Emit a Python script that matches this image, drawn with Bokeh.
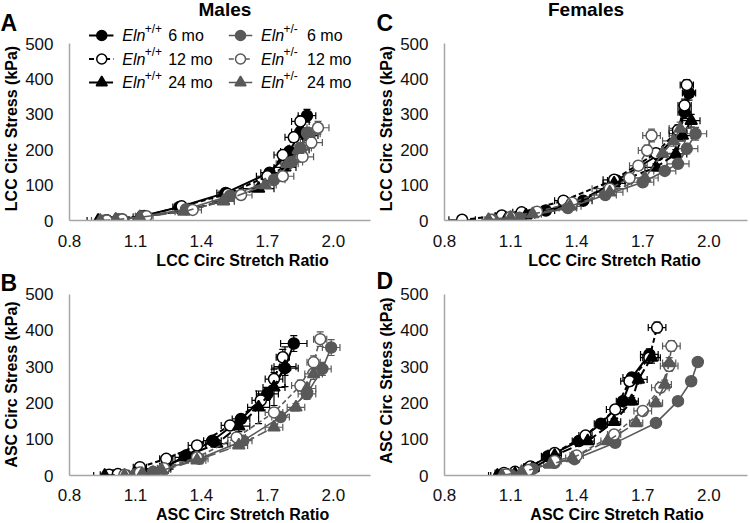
import math
from bokeh.plotting import figure
from bokeh.models import (Label, Whisker, ColumnDataSource, FixedTicker, TeeHead,
                          Range1d, NumeralTickFormatter)
from bokeh.layouts import column, row
from bokeh.embed import file_html
from bokeh.resources import INLINE

FONT = "Liberation Sans"

# ---------------- data: stretch ratio (x), stress kPa (y), +/- SEM ----------------
# Panel A: Males, LCC
mA_wt6_x = [0.97, 1.02, 1.13, 1.30, 1.51, 1.71, 1.80, 1.85, 1.88]
mA_wt6_y = [0, 3, 12, 38, 78, 135, 195, 250, 296]
mA_wt6_ex = [0.04, 0.03, 0.03, 0.03, 0.04, 0.04, 0.04, 0.04, 0.04]
mA_wt6_ey = [0, 1, 2, 4, 6, 10, 12, 15, 18]
mA_wt12_x = [0.97, 1.04, 1.14, 1.31, 1.52, 1.70, 1.77, 1.82, 1.85]
mA_wt12_y = [0, 3, 13, 40, 75, 125, 185, 235, 280]
mA_wt12_ex = [0.05, 0.03, 0.03, 0.03, 0.04, 0.05, 0.04, 0.04, 0.04]
mA_wt12_ey = [0, 1, 2, 4, 6, 8, 10, 12, 15]
mA_wt24_x = [0.93, 1.01, 1.12, 1.33, 1.50, 1.66, 1.78, 1.84, 1.88]
mA_wt24_y = [0, 2, 10, 28, 55, 90, 150, 200, 240]
mA_wt24_ex = [0.05, 0.03, 0.03, 0.04, 0.05, 0.07, 0.05, 0.05, 0.05]
mA_wt24_ey = [0, 1, 2, 3, 5, 8, 10, 12, 14]
mA_het6_x = [0.96, 1.02, 1.13, 1.33, 1.53, 1.73, 1.81, 1.85, 1.88]
mA_het6_y = [0, 3, 11, 32, 70, 115, 165, 205, 248]
mA_het6_ex = [0.04, 0.03, 0.03, 0.03, 0.04, 0.05, 0.05, 0.05, 0.05]
mA_het6_ey = [0, 1, 2, 3, 5, 8, 10, 12, 14]
mA_het12_x = [0.97, 1.04, 1.15, 1.36, 1.58, 1.77, 1.86, 1.90, 1.93]
mA_het12_y = [0, 3, 12, 30, 72, 125, 180, 220, 262]
mA_het12_ex = [0.04, 0.03, 0.03, 0.04, 0.05, 0.05, 0.05, 0.05, 0.05]
mA_het12_ey = [0, 1, 2, 3, 5, 8, 12, 15, 18]
mA_het24_x = [0.94, 1.01, 1.12, 1.32, 1.50, 1.69, 1.79, 1.84, 1.89]
mA_het24_y = [0, 2, 9, 25, 55, 100, 160, 200, 245]
mA_het24_ex = [0.04, 0.03, 0.03, 0.04, 0.05, 0.05, 0.05, 0.05, 0.05]
mA_het24_ey = [0, 1, 2, 3, 5, 8, 10, 12, 14]

# Panel C: Females, LCC
fC_wt6_x = [1.02, 1.13, 1.26, 1.43, 1.58, 1.77, 1.86, 1.89, 1.91]
fC_wt6_y = [0, 10, 28, 56, 113, 185, 245, 306, 360]
fC_wt6_ex = [0.03, 0.03, 0.04, 0.04, 0.04, 0.04, 0.04, 0.03, 0.03]
fC_wt6_ey = [0, 2, 3, 5, 8, 12, 15, 18, 20]
fC_wt12_x = [0.88, 1.06, 1.15, 1.34, 1.57, 1.76, 1.86, 1.89, 1.90]
fC_wt12_y = [2, 14, 23, 56, 115, 190, 255, 325, 383]
fC_wt12_ex = [0.06, 0.03, 0.04, 0.04, 0.05, 0.04, 0.04, 0.03, 0.03]
fC_wt12_ey = [0, 2, 3, 5, 8, 12, 15, 18, 15]
fC_wt24_x = [1.03, 1.08, 1.17, 1.36, 1.57, 1.76, 1.85, 1.88, 1.92]
fC_wt24_y = [0, 5, 15, 40, 105, 150, 188, 240, 282]
fC_wt24_ex = [0.04, 0.03, 0.04, 0.04, 0.05, 0.05, 0.05, 0.04, 0.04]
fC_wt24_ey = [0, 1, 2, 4, 8, 10, 12, 15, 18]
fC_het6_x = [1.02, 1.14, 1.36, 1.53, 1.70, 1.80, 1.86, 1.90, 1.94]
fC_het6_y = [2, 8, 35, 72, 108, 140, 160, 203, 245]
fC_het6_ex = [0.03, 0.03, 0.04, 0.05, 0.05, 0.05, 0.05, 0.05, 0.05]
fC_het6_ey = [0, 2, 3, 6, 8, 10, 12, 15, 18]
fC_het12_x = [1.01, 1.10, 1.22, 1.38, 1.55, 1.64, 1.68, 1.72, 1.74]
fC_het12_y = [2, 10, 25, 50, 90, 120, 155, 198, 240]
fC_het12_ex = [0.03, 0.04, 0.05, 0.06, 0.08, 0.07, 0.04, 0.04, 0.04]
fC_het12_ey = [0, 2, 3, 5, 8, 10, 12, 15, 18]
fC_het24_x = [1.00, 1.10, 1.20, 1.37, 1.55, 1.71, 1.79, 1.84, 1.87]
fC_het24_y = [2, 8, 18, 40, 80, 120, 190, 225, 260]
fC_het24_ex = [0.03, 0.04, 0.04, 0.05, 0.06, 0.06, 0.05, 0.05, 0.05]
fC_het24_ey = [0, 1, 2, 4, 8, 10, 12, 15, 18]

# Panel B: Males, ASC
mB_wt6_x = [1.00, 1.15, 1.24, 1.33, 1.45, 1.58, 1.70, 1.78, 1.82]
mB_wt6_y = [0, 4, 25, 55, 96, 156, 225, 296, 364]
mB_wt6_ex = [0.04, 0.03, 0.03, 0.03, 0.04, 0.04, 0.05, 0.06, 0.06]
mB_wt6_ey = [0, 1, 3, 5, 8, 12, 15, 20, 22]
mB_wt12_x = [0.98, 1.02, 1.12, 1.24, 1.38, 1.53, 1.67, 1.73, 1.77]
mB_wt12_y = [2, 4, 23, 46, 83, 138, 207, 266, 326]
mB_wt12_ex = [0.04, 0.03, 0.03, 0.03, 0.04, 0.04, 0.04, 0.04, 0.03]
mB_wt12_ey = [0, 1, 3, 5, 8, 10, 15, 18, 22]
mB_wt24_x = [0.96, 1.10, 1.22, 1.32, 1.47, 1.57, 1.66, 1.73, 1.78]
mB_wt24_y = [0, 5, 18, 50, 88, 136, 188, 243, 300]
mB_wt24_ex = [0.05, 0.03, 0.04, 0.04, 0.05, 0.05, 0.05, 0.05, 0.05]
mB_wt24_ey = [0, 2, 3, 6, 10, 15, 45, 50, 55]
mB_het6_x = [1.10, 1.18, 1.23, 1.39, 1.59, 1.76, 1.88, 1.95, 1.99]
mB_het6_y = [3, 10, 18, 46, 96, 161, 225, 294, 353]
mB_het6_ex = [0.03, 0.03, 0.03, 0.04, 0.04, 0.04, 0.04, 0.04, 0.04]
mB_het6_ey = [0, 1, 2, 4, 8, 12, 15, 18, 22]
mB_het12_x = [1.05, 1.12, 1.23, 1.38, 1.56, 1.73, 1.85, 1.91, 1.94]
mB_het12_y = [2, 8, 20, 50, 105, 174, 248, 312, 376]
mB_het12_ex = [0.03, 0.03, 0.03, 0.04, 0.04, 0.04, 0.04, 0.03, 0.03]
mB_het12_ey = [0, 1, 2, 4, 8, 12, 15, 18, 20]
mB_het24_x = [1.05, 1.13, 1.22, 1.38, 1.57, 1.73, 1.83, 1.88, 1.91]
mB_het24_y = [0, 5, 14, 42, 83, 133, 188, 240, 280]
mB_het24_ex = [0.03, 0.03, 0.03, 0.04, 0.04, 0.04, 0.04, 0.04, 0.04]
mB_het24_ey = [0, 1, 2, 4, 6, 8, 10, 12, 15]

# Panel D: Females, ASC
fD_wt6_x = [1.05, 1.12, 1.18, 1.27, 1.41, 1.51, 1.61, 1.65, 1.73]
fD_wt6_y = [0, 5, 20, 53, 95, 143, 205, 270, 334]
fD_wt6_ex = [0.04, 0.03, 0.03, 0.03, 0.03, 0.03, 0.03, 0.04, 0.04]
fD_wt6_ey = [0, 1, 2, 4, 6, 8, 10, 12, 15]
fD_wt12_x = [1.07, 1.12, 1.19, 1.30, 1.44, 1.575, 1.64, 1.73, 1.765]
fD_wt12_y = [7, 10, 25, 62, 110, 182, 260, 325, 408]
fD_wt12_ex = [0.04, 0.03, 0.03, 0.03, 0.03, 0.04, 0.04, 0.04, 0.04]
fD_wt12_ey = [0, 2, 3, 5, 8, 10, 12, 15, 15]
fD_wt24_x = [1.04, 1.12, 1.20, 1.30, 1.45, 1.57, 1.65, 1.68, 1.74]
fD_wt24_y = [0, 5, 20, 55, 95, 148, 205, 265, 325]
fD_wt24_ex = [0.04, 0.03, 0.03, 0.03, 0.03, 0.03, 0.03, 0.04, 0.04]
fD_wt24_ey = [0, 1, 2, 4, 6, 8, 10, 12, 15]
fD_het6_x = [1.10, 1.20, 1.30, 1.39, 1.575, 1.76, 1.86, 1.92, 1.95]
fD_het6_y = [2, 18, 35, 45, 90, 145, 205, 260, 313]
fD_het6_ex = [0.02, 0.02, 0.02, 0.02, 0.02, 0.02, 0.02, 0.02, 0.02]
fD_het6_ey = [0, 1, 2, 2, 3, 4, 5, 6, 8]
fD_het12_x = [1.08, 1.18, 1.30, 1.40, 1.57, 1.70, 1.78, 1.82, 1.83]
fD_het12_y = [3, 15, 40, 55, 113, 178, 242, 302, 357]
fD_het12_ex = [0.03, 0.03, 0.03, 0.03, 0.03, 0.04, 0.04, 0.04, 0.04]
fD_het12_ey = [0, 2, 3, 4, 6, 10, 12, 15, 15]
fD_het24_x = [1.06, 1.15, 1.28, 1.38, 1.54, 1.67, 1.76, 1.80, 1.82]
fD_het24_y = [0, 10, 30, 48, 95, 145, 200, 251, 310]
fD_het24_ex = [0.03, 0.03, 0.03, 0.03, 0.03, 0.03, 0.03, 0.03, 0.03]
fD_het24_ey = [0, 2, 3, 4, 6, 8, 10, 12, 15]

X_TICKS = [0.8, 1.1, 1.4, 1.7, 2.0]
Y_TICKS = [0, 100, 200, 300, 400, 500]
SERIES = ["wt6", "wt12", "wt24", "het6", "het12", "het24"]
LEG_GENO = {"wt6": "+/+", "wt12": "+/+", "wt24": "+/+",
            "het6": "+/-", "het12": "+/-", "het24": "+/-"}
LEG_AGE = {"wt6": "6 mo", "wt12": "12 mo", "wt24": "24 mo",
           "het6": "6 mo", "het12": "12 mo", "het24": "24 mo"}

BLACK = "#000000"
GRAY = "#595959"
STYLE = {
    "wt6":   dict(c=BLACK, m="circle",   fill=BLACK,     dash="solid", lw=2.0, size=11),
    "wt12":  dict(c=BLACK, m="circle",   fill="#ffffff", dash="5 3",   lw=2.0, size=11),
    "wt24":  dict(c=BLACK, m="triangle", fill=BLACK,     dash="10 4",  lw=2.0, size=12),
    "het6":  dict(c=GRAY,  m="circle",   fill=GRAY,      dash="solid", lw=1.6, size=11),
    "het12": dict(c=GRAY,  m="circle",   fill="#ffffff", dash="5 3",   lw=1.6, size=11),
    "het24": dict(c=GRAY,  m="triangle", fill=GRAY,      dash="10 4",  lw=1.6, size=12),
}

# panel geometry in page pixels (page origin at top-left)
GEOM = {
    "A": dict(left=22, top=0, w=353, h=250, fl=62, fr=370, fb=220, sx=225.0, sy=0.354, so=8),
    "C": dict(left=397, top=0, w=353, h=250, fl=443, fr=747, fb=220, sx=221.0, sy=0.354, so=8),
    "B": dict(left=22, top=269, w=353, h=236, fl=62, fr=370, fb=475, sx=225.0, sy=0.3626, so=7),
    "D": dict(left=397, top=269, w=353, h=236, fl=443, fr=747, fb=475, sx=221.0, sy=0.3626, so=7),
}

PANEL_DATA = {
    "A": {k: (globals()[f"mA_{k}_x"], globals()[f"mA_{k}_y"], globals()[f"mA_{k}_ex"], globals()[f"mA_{k}_ey"]) for k in SERIES},
    "C": {k: (globals()[f"fC_{k}_x"], globals()[f"fC_{k}_y"], globals()[f"fC_{k}_ex"], globals()[f"fC_{k}_ey"]) for k in SERIES},
    "B": {k: (globals()[f"mB_{k}_x"], globals()[f"mB_{k}_y"], globals()[f"mB_{k}_ex"], globals()[f"mB_{k}_ey"]) for k in SERIES},
    "D": {k: (globals()[f"fD_{k}_x"], globals()[f"fD_{k}_y"], globals()[f"fD_{k}_ex"], globals()[f"fD_{k}_ey"]) for k in SERIES},
}


def dx(g, X):
    return 0.8 + (X - g["fl"]) / g["sx"]


def dy(g, Y):
    return (g["fb"] - Y) / g["sy"]


def add_label(p, x, y, text, size="16px", style="normal", align="left", angle=0.0,
              baseline="middle", color="#000000"):
    p.add_layout(Label(x=x, y=y, x_units="data", y_units="data", text=text,
                       text_font=FONT, text_font_size=size, text_font_style=style,
                       text_align=align, text_baseline=baseline, angle=angle,
                       text_color=color))


def blank(x0, x1, y0, y1):
    """A plain text strip whose data coordinates equal page pixels."""
    f = figure(width=x1 - x0, height=y1 - y0, x_range=Range1d(x0, x1), y_range=Range1d(y1, y0),
               output_backend="svg", toolbar_location=None, x_axis_type=None, y_axis_type=None,
               min_border=0, min_border_left=0, min_border_right=0, min_border_top=0,
               min_border_bottom=0, outline_line_color=None,
               background_fill_color="#ffffff", border_fill_color="#ffffff")
    f.title.visible = False
    f.grid.visible = False
    return f


def make_panel(key):
    g = GEOM[key]
    x_end = 0.8 + (g["fr"] - g["fl"]) / g["sx"]
    y_end = (g["fb"] - g["top"]) / g["sy"]
    p = figure(width=g["w"], height=g["h"], x_range=Range1d(0.8, x_end), y_range=Range1d(0, y_end),
               output_backend="svg", toolbar_location=None,
               min_border_left=g["fl"] - g["left"], min_border_right=g["left"] + g["w"] - g["fr"],
               min_border_top=0, min_border_bottom=g["top"] + g["h"] - g["fb"],
               outline_line_color=None, background_fill_color="#ffffff", border_fill_color="#ffffff")
    p.title.visible = False
    p.grid.visible = False
    p.xaxis.ticker = FixedTicker(ticks=X_TICKS)
    p.yaxis.ticker = FixedTicker(ticks=Y_TICKS)
    p.xaxis.formatter = NumeralTickFormatter(format="0.0")
    p.yaxis.bounds = (0, 500)
    for ax in (p.xaxis[0], p.yaxis[0]):
        ax.axis_line_color = "#a6a6a6"
        ax.axis_line_width = 1.5
        ax.major_tick_line_color = None
        ax.minor_tick_line_color = None
        ax.major_label_text_font = FONT
        ax.major_label_text_font_size = "17px"
        ax.major_label_text_color = "#111111"
    p.xaxis[0].major_label_standoff = g["so"]
    p.yaxis[0].major_label_standoff = 10

    for k in SERIES:
        xs, ys, exs, eys = PANEL_DATA[key][k]
        st = STYLE[k]
        src = ColumnDataSource(dict(
            x=xs, y=ys,
            xl=[a - b for a, b in zip(xs, exs)], xu=[a + b for a, b in zip(xs, exs)],
            yl=[a - b for a, b in zip(ys, eys)], yu=[a + b for a, b in zip(ys, eys)]))
        for dim, base, lo, up in (("height", "x", "yl", "yu"), ("width", "y", "xl", "xu")):
            p.add_layout(Whisker(source=src, base=base, lower=lo, upper=up, dimension=dim,
                                 line_color=st["c"], line_width=1.2,
                                 lower_head=TeeHead(size=7, line_color=st["c"], line_width=1.2),
                                 upper_head=TeeHead(size=7, line_color=st["c"], line_width=1.2)))
        p.line("x", "y", source=src, line_color=st["c"], line_width=st["lw"], line_dash=st["dash"])
        p.scatter("x", "y", source=src, marker=st["m"], size=st["size"], fill_color=st["fill"],
                  line_color=st["c"], line_width=1.5)
    return p, g


pA, gA = make_panel("A")
pC, gC = make_panel("C")
pB, gB = make_panel("B")
pD, gD = make_panel("D")

add_label(pA, dx(gA, 221), dy(gA, 8.5), "Males", size="19px", style="bold", align="center")
add_label(pC, dx(gC, 585), dy(gC, 8.5), "Females", size="19px", style="bold", align="center")

# legend (drawn inside panel A)
ROWS_Y = [35, 58.5, 82]
COLS = [dict(l0=82, l1=107, mk=95, t=116, sup=139, age=163),
        dict(l0=225, l1=249, mk=237, t=258, sup=281, age=305)]
for i, k in enumerate(SERIES):
    col = COLS[i // 3]
    Y = ROWS_Y[i % 3]
    st = STYLE[k]
    pA.line([dx(gA, col["l0"]), dx(gA, col["l1"])], [dy(gA, Y), dy(gA, Y)], line_color=st["c"],
            line_width=st["lw"], line_dash=st["dash"])
    pA.scatter([dx(gA, col["mk"])], [dy(gA, Y)], marker=st["m"], size=st["size"] - 1,
               fill_color=st["fill"], line_color=st["c"], line_width=1.5)
    add_label(pA, dx(gA, col["t"]), dy(gA, Y), "Eln", size="16px", style="italic")
    add_label(pA, dx(gA, col["sup"]), dy(gA, Y - 7), LEG_GENO[k], size="12px")
    add_label(pA, dx(gA, col["age"]), dy(gA, Y), LEG_AGE[k], size="16px")

# x-axis title strips
xA = blank(22, 375, 250, 269)
add_label(xA, 225, 259.5, "LCC Circ Stretch Ratio", style="bold", align="center")
xC = blank(397, 750, 250, 269)
add_label(xC, 595, 259.5, "LCC Circ Stretch Ratio", style="bold", align="center")
xB = blank(22, 375, 505, 523)
add_label(xB, 225, 513.5, "ASC Circ Stretch Ratio", style="bold", align="center")
xD = blank(397, 750, 505, 523)
add_label(xD, 598, 513.5, "ASC Circ Stretch Ratio", style="bold", align="center")

# left strips: panel letters and y-axis titles
tL = blank(0, 22, 0, 523)
add_label(tL, 0, 22, "A", size="23px", style="bold", baseline="alphabetic")
add_label(tL, 0, 282, "B", size="23px", style="bold", baseline="alphabetic")
add_label(tL, 10.5, 128, "LCC Circ Stress (kPa)", style="bold", align="center", angle=math.pi / 2)
add_label(tL, 10.5, 384, "ASC Circ Stress (kPa)", style="bold", align="center", angle=math.pi / 2)

tR = blank(375, 397, 0, 523)
add_label(tR, 376, 22, "C", size="23px", style="bold", baseline="alphabetic")
add_label(tR, 376, 280, "D", size="23px", style="bold", baseline="alphabetic")
add_label(tR, 385.5, 128, "LCC Circ Stress (kPa)", style="bold", align="center", angle=math.pi / 2)
add_label(tR, 385.5, 380, "ASC Circ Stress (kPa)", style="bold", align="center", angle=math.pi / 2)

layout = row(tL, column(pA, xA, pB, xB), tR, column(pC, xC, pD, xD))
open("out.html", "w").write(file_html(layout, INLINE))
